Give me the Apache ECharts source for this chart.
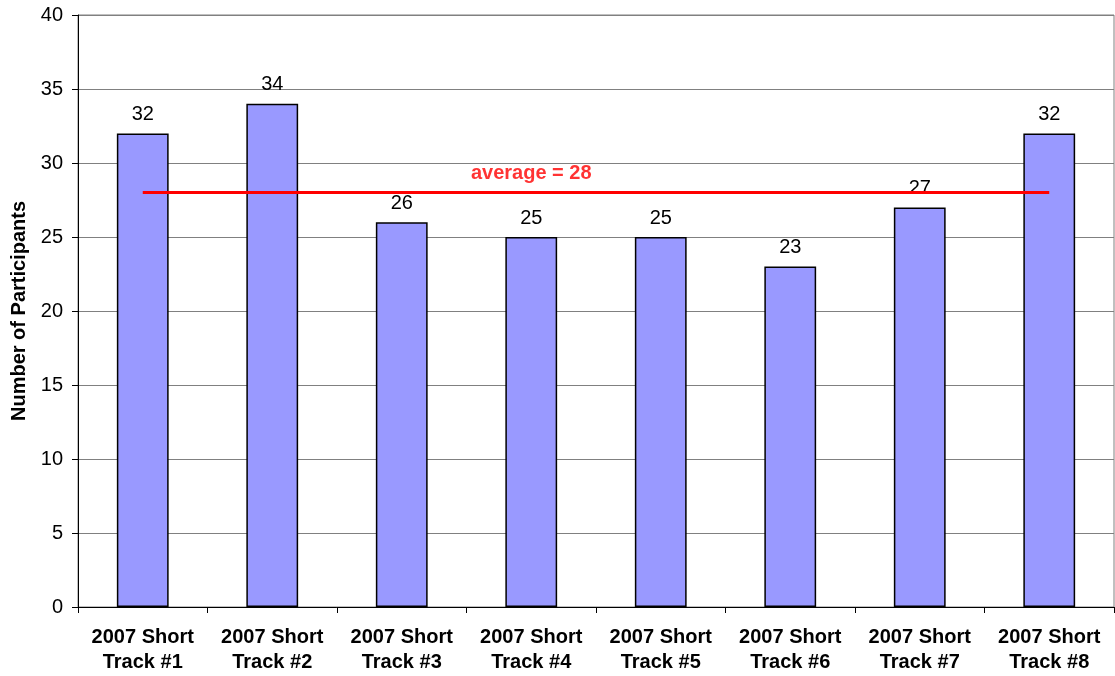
<!DOCTYPE html>
<html><head><meta charset="utf-8">
<script src="https://cdn.jsdelivr.net/npm/echarts@6/dist/echarts.min.js"></script>
<style>html,body{margin:0;padding:0;background:#fff}#c{width:1115px;height:676px}</style>
</head><body><div id="c"></div>
<script>
const categories = ["2007 Short\nTrack #1","2007 Short\nTrack #2","2007 Short\nTrack #3","2007 Short\nTrack #4","2007 Short\nTrack #5","2007 Short\nTrack #6","2007 Short\nTrack #7","2007 Short\nTrack #8"];
const participants = [32, 34, 26, 25, 25, 23, 27, 32];
const averageValue = 28;
const averageLabel = "average = 28";
const averageLabelIndex = 3;

const font = "'Liberation Sans', Arial, sans-serif";
const chart = echarts.init(document.getElementById('c'));
chart.setOption({
  animation: false,
  grid: {left: 78, right: 1, top: 15, bottom: 69, containLabel: false, outerBoundsMode: 'none', show: true, borderColor: '#808080', borderWidth: 1},
  xAxis: {
    type: 'category', data: categories,
    axisLine: {lineStyle: {color: '#000', width: 1}},
    axisTick: {show: true, alignWithLabel: false, length: 6, lineStyle: {color: '#000'}},
    axisLabel: {fontFamily: font, fontWeight: 'bold', fontSize: 20, color: '#000', lineHeight: 25, margin: 18, interval: 0}
  },
  yAxis: {
    type: 'value', min: 0, max: 40, interval: 5,
    name: 'Number of Participants', nameLocation: 'middle', nameGap: 48, nameRotate: 90,
    nameTextStyle: {fontFamily: font, fontWeight: 'bold', fontSize: 20, color: '#000'},
    axisLine: {show: true, lineStyle: {color: '#000'}},
    axisTick: {show: true, length: 6, lineStyle: {color: '#000'}},
    splitLine: {lineStyle: {color: '#808080', width: 1}},
    axisLabel: {fontFamily: font, fontSize: 20, color: '#000', margin: 15}
  },
  series: [{
    type: 'bar', data: participants, barWidth: '40%',
    itemStyle: {color: '#9999FF', borderColor: '#000', borderWidth: 1.5},
    label: {show: true, position: 'top', distance: 9, fontFamily: font, fontSize: 20, color: '#000'},
    z: 2
  }, {
    type: 'line',
    data: participants.map(() => averageValue),
    showSymbol: false, symbol: 'none',
    lineStyle: {color: '#FF0000', width: 3},
    z: 3
  }, {
    type: 'scatter',
    data: [[averageLabelIndex, averageValue]],
    symbolSize: 1, itemStyle: {color: 'rgba(0,0,0,0)'},
    label: {show: true, position: 'top', distance: 9, formatter: averageLabel, fontFamily: font, fontWeight: 'bold', fontSize: 20, color: '#FF0000'},
    emphasis: {disabled: true},
    silent: true, z: 4
  }]
});
</script></body></html>
